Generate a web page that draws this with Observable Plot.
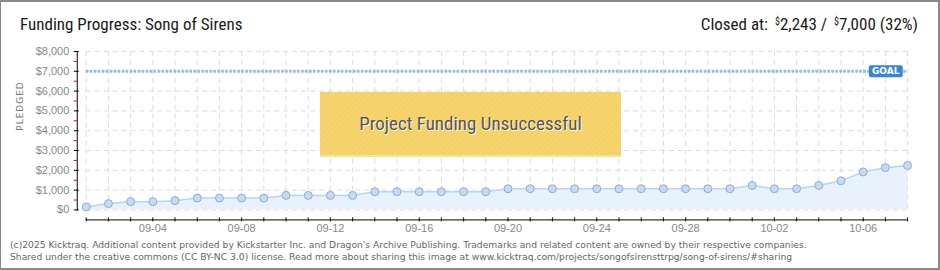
<!DOCTYPE html>
<html>
<head>
<meta charset="utf-8">
<script src="https://cdn.jsdelivr.net/npm/d3@7"></script>
<script src="https://cdn.jsdelivr.net/npm/@observablehq/plot@0.6"></script>
<style>
  html, body { margin: 0; padding: 0; background: #fff; }
  #wrap { position: relative; width: 940px; height: 270px; box-sizing: border-box;
          border-top: 2px solid #8a8a8a; border-right: 2px solid #8a8a8a; border-bottom: 2px solid #8a8a8a; border-left: 1px solid #8a8a8a;
          overflow: hidden; background: #fff; }
  .hdr { position: absolute; top: 12px; font-family: "Liberation Sans Narrow", "Roboto Condensed", "DejaVu Sans Condensed", sans-serif;
         font-size: 17px; color: #1a1a1a; white-space: nowrap; }
  #title { left: 19px; }
  #closed { right: 20px; }
  #closed sup { font-size: 10px; vertical-align: 5px; margin-left: 3px; }
  #chart { position: absolute; left: -1px; top: 38px; }
  #fail { position: absolute; left: 319px; top: 90px; width: 301px; height: 65px; box-sizing: border-box;
          background: repeating-linear-gradient(135deg, #f6d46e 0px, #f6d46e 2px, #f3d068 2px, #f3d068 4px);
          border-bottom: 2px solid #fde48c;
          display: flex; align-items: center; justify-content: center;
          font-family: "Liberation Sans Narrow", "Roboto Condensed", sans-serif; font-size: 19px; color: #555;
          text-shadow: 1px 1px 0 #fff; }
  #foot { position: absolute; left: 9px; top: 237px; font-family: "DejaVu Sans", Verdana, sans-serif; font-size: 9.2px;
          line-height: 12px; color: #666; white-space: nowrap; }
</style>
</head>
<body>
<div id="wrap">
  <div class="hdr" id="title">Funding Progress: Song of Sirens</div>
  <div class="hdr" id="closed">Closed at: <sup>$</sup>2,243 / <sup>$</sup>7,000 (32%)</div>
  <div id="chart"></div>
  <div id="fail">Project Funding Unsuccessful</div>
  <div id="foot">(c)2025 Kicktraq. Additional content provided by Kickstarter Inc. and Dragon's Archive Publishing. Trademarks and related content are owned by their respective companies.<br>Shared under the creative commons (CC BY-NC 3.0) license. Read more about sharing this image at www.kicktraq.com/projects/songofsirensttrpg/song-of-sirens/#sharing</div>
</div>
<script>
// ---- data ----
const dates = [
  "2025-09-01","2025-09-02","2025-09-03","2025-09-04","2025-09-05","2025-09-06","2025-09-07","2025-09-08",
  "2025-09-09","2025-09-10","2025-09-11","2025-09-12","2025-09-13","2025-09-14","2025-09-15","2025-09-16",
  "2025-09-17","2025-09-18","2025-09-19","2025-09-20","2025-09-21","2025-09-22","2025-09-23","2025-09-24",
  "2025-09-25","2025-09-26","2025-09-27","2025-09-28","2025-09-29","2025-09-30","2025-10-01","2025-10-02",
  "2025-10-03","2025-10-04","2025-10-05","2025-10-06","2025-10-07","2025-10-08"
];
const pledged = [
  150, 320, 420, 420, 470, 600, 600, 600,
  600, 735, 735, 735, 735, 920, 920, 920,
  920, 920, 920, 1070, 1070, 1070, 1070, 1070,
  1070, 1070, 1070, 1070, 1070, 1070, 1235, 1070,
  1070, 1235, 1470, 1920, 2135, 2243
];
const goal = 7000;
const yTicks = [0, 1000, 2000, 3000, 4000, 5000, 6000, 7000, 8000];
const yMinorTicks = [500, 1500, 2500, 3500, 4500, 5500, 6500, 7500];
const xLabelDates = ["2025-09-04","2025-09-08","2025-09-12","2025-09-16","2025-09-20","2025-09-24","2025-09-28","2025-10-02","2025-10-06"];
const goalLabel = "GOAL";
const yLabel = "PLEDGED";

const parse = d3.utcParse("%Y-%m-%d");
const data = dates.map((d, i) => ({date: parse(d), value: pledged[i]}));
const allDays = dates.map(parse);
const labelDays = xLabelDates.map(parse);
const last = data[data.length - 1];
const goalData = [{date: last.date, value: goal, label: goalLabel}];
const money = d => "$" + d3.format(",")(d);

const font = "Liberation Sans, Arial, sans-serif";

const plot = Plot.plot({
  width: 941,
  height: 195,
  marginLeft: 86,
  marginRight: 31,
  marginTop: 11,
  marginBottom: 25,
  style: {fontFamily: font, fontSize: "11px", color: "#888", background: "transparent", overflow: "visible"},
  x: {type: "utc", domain: [allDays[0], allDays[allDays.length - 1]]},
  y: {domain: [0, 8000]},
  marks: [
    Plot.gridX(allDays, {stroke: "#dcdcdc", strokeOpacity: 1, strokeDasharray: "5,4"}),
    Plot.gridY(yTicks, {stroke: "#dcdcdc", strokeOpacity: 1, strokeDasharray: "5,4"}),
    Plot.areaY(data, {x: "date", y: "value", fill: "#e8f2fc"}),
    Plot.lineY(data, {x: "date", y: "value", stroke: "#b7d6f5", strokeWidth: 1.5}),
    Plot.ruleY([goal], {stroke: "#93bbe8", strokeWidth: 3, strokeDasharray: "2.6,1.4"}),
    Plot.dot(data, {x: "date", y: "value", r: 4, fill: "#c3dbf6", stroke: "#93abcc", strokeWidth: 1}),
    Plot.text(goalData, {x: "date", y: "value", text: "label", dx: -22, fill: "#fff", fontSize: 9, fontWeight: "bold",
      fontFamily: "DejaVu Sans, sans-serif", ariaLabel: "goal-label"}),
    // y axis
    Plot.frame({anchor: "left", dx: -9, stroke: "#000"}),
    Plot.axisY(yTicks, {tickSize: 5, dx: -7, tickPadding: 5, tickFormat: money, label: null, stroke: "#000", fill: "#888"}),
    Plot.axisY(yMinorTicks, {tickSize: 3, dx: -9, tickFormat: () => "", label: null, stroke: "#e00000"}),
    Plot.text([yLabel], {frameAnchor: "left", rotate: -90, dx: -66, fill: "#777", fontSize: 9,
      fontFamily: "DejaVu Sans, sans-serif"}),
    // x axis
    Plot.frame({anchor: "bottom", dy: 10, stroke: "#000"}),
    Plot.axisX(allDays, {tickSize: 4, dy: 8, tickFormat: () => "", label: null, stroke: "#000"}),
    Plot.axisX(labelDays, {tickSize: 0, dy: 10, tickPadding: 4, tickFormat: d3.utcFormat("%m-%d"), label: null, fill: "#888"})
  ]
});
document.getElementById("chart").appendChild(plot);

// rounded badge behind the GOAL text
const svgNS = "http://www.w3.org/2000/svg";
plot.querySelectorAll("text").forEach(t => {
  if (t.textContent === goalLabel) {
    const b = t.getBBox();
    const r = document.createElementNS(svgNS, "rect");
    const w = 34, h = 12;
    r.setAttribute("x", b.x + b.width / 2 - w / 2);
    r.setAttribute("y", b.y + b.height / 2 - h / 2);
    r.setAttribute("width", w);
    r.setAttribute("height", h);
    r.setAttribute("rx", 2);
    r.setAttribute("fill", "#3a86d6");
    const tr = t.getAttribute("transform");
    if (tr) r.setAttribute("transform", tr);
    t.parentNode.insertBefore(r, t);
  }
  if (t.textContent === yLabel) t.setAttribute("letter-spacing", "1");
});
</script>
</body>
</html>
